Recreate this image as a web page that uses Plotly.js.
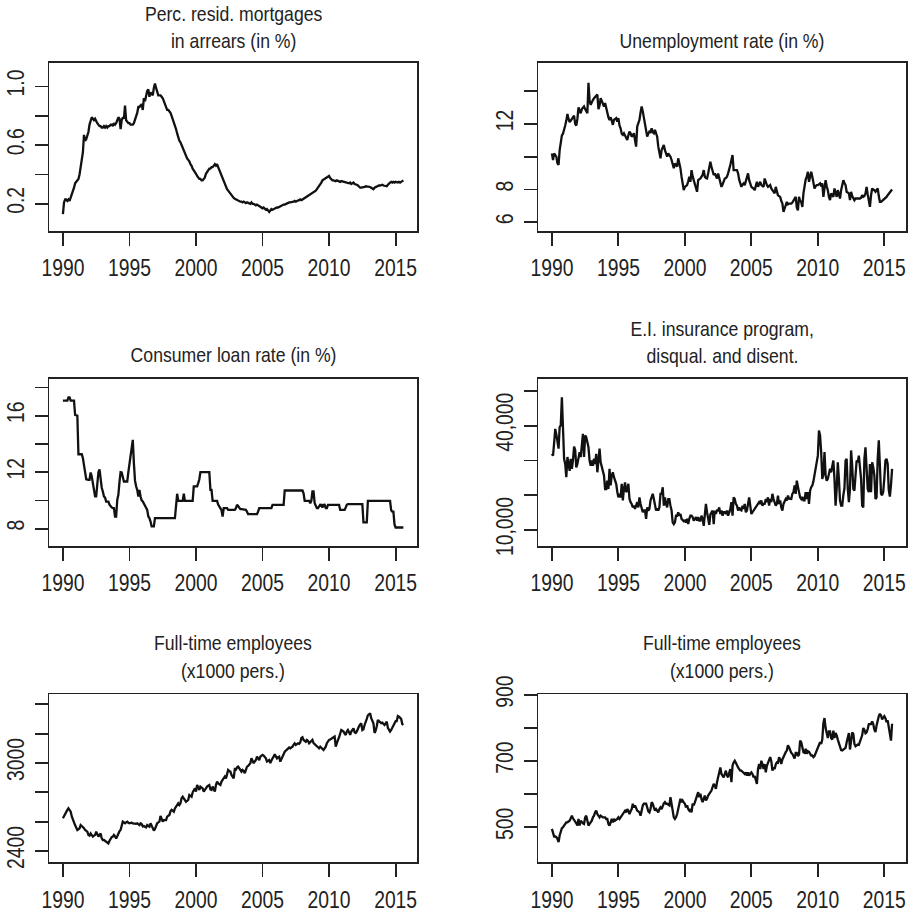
<!DOCTYPE html>
<html><head><meta charset="utf-8">
<script src="https://cdn.plot.ly/plotly-3.0.1.min.js"></script>
<style>html,body{margin:0;padding:0;background:#fff;}#chart{width:911px;height:912px;}</style>
</head><body><div id="chart"></div>
<script>
// ---------- DATA (monthly, Jan 1990 - Aug 2015) ----------
const startYear = 1990;
const xTickVals = [1990, 1995, 2000, 2005, 2010, 2015];
const xTickText = ['1990', '1995', '2000', '2005', '2010', '2015'];

const mortgArrears = [
0.13,0.21,0.23,0.23,0.22,0.23,0.22,0.24,0.26,0.28,0.31,0.34,
0.35,0.36,0.37,0.40,0.45,0.50,0.55,0.67,0.63,0.64,0.66,0.69,
0.74,0.77,0.79,0.78,0.77,0.78,0.76,0.75,0.74,0.73,0.73,0.72,
0.72,0.73,0.72,0.73,0.72,0.73,0.73,0.74,0.74,0.73,0.75,0.74,
0.75,0.77,0.79,0.78,0.71,0.77,0.79,0.78,0.87,0.77,0.76,0.75,
0.75,0.74,0.74,0.74,0.75,0.77,0.80,0.82,0.86,0.86,0.87,0.88,
0.84,0.92,0.90,0.95,0.97,0.98,0.93,0.96,0.95,0.94,0.99,1.02,
0.99,0.97,0.94,0.94,0.94,0.93,0.92,0.90,0.88,0.86,0.84,0.84,
0.83,0.82,0.80,0.78,0.76,0.73,0.71,0.68,0.65,0.63,0.62,0.60,
0.59,0.57,0.55,0.53,0.51,0.50,0.49,0.47,0.46,0.44,0.43,0.42,
0.405,0.39,0.38,0.37,0.37,0.36,0.36,0.37,0.38,0.405,0.42,0.43,
0.44,0.44,0.45,0.45,0.46,0.47,0.46,0.47,0.45,0.43,0.42,0.40,
0.38,0.36,0.34,0.32,0.30,0.29,0.28,0.27,0.26,0.245,0.24,0.235,
0.23,0.225,0.22,0.22,0.215,0.215,0.21,0.215,0.21,0.205,0.21,0.205,
0.205,0.20,0.21,0.20,0.20,0.195,0.19,0.195,0.19,0.185,0.18,0.18,
0.17,0.175,0.165,0.16,0.165,0.155,0.145,0.155,0.165,0.16,0.165,0.17,
0.17,0.175,0.175,0.18,0.185,0.185,0.19,0.195,0.195,0.20,0.20,0.205,
0.21,0.21,0.21,0.215,0.215,0.22,0.215,0.22,0.22,0.225,0.23,0.225,
0.23,0.235,0.24,0.245,0.25,0.255,0.255,0.26,0.265,0.27,0.275,0.28,
0.29,0.30,0.31,0.325,0.335,0.345,0.36,0.365,0.37,0.375,0.38,0.39,
0.39,0.375,0.365,0.36,0.36,0.355,0.355,0.36,0.355,0.355,0.35,0.355,
0.353,0.35,0.35,0.345,0.345,0.34,0.34,0.345,0.335,0.34,0.345,0.335,
0.335,0.33,0.325,0.315,0.31,0.31,0.31,0.315,0.315,0.32,0.32,0.32,
0.32,0.315,0.31,0.305,0.30,0.31,0.315,0.315,0.32,0.325,0.325,0.33,
0.33,0.325,0.325,0.32,0.32,0.33,0.34,0.345,0.35,0.345,0.35,0.345,
0.35,0.345,0.345,0.35,0.345,0.35,0.355,0.36];

const unemploymentRate = [
10.2,9.8,10.2,10.1,10.0,9.6,9.5,10.4,11.0,11.3,11.4,11.6,
11.9,12.2,12.6,12.3,12.1,12.2,12.3,12.4,12.5,12.0,11.9,12.3,
13.0,12.8,12.65,12.9,13.0,13.06,12.9,12.8,12.65,14.5,13.4,13.16,
13.37,13.45,13.57,13.65,13.72,13.78,12.9,13.1,13.57,13.4,13.2,13.06,
13.27,12.9,12.55,12.4,12.24,12.4,12.2,11.94,12.24,12.3,12.35,12.14,
12.35,11.9,11.73,11.4,11.33,11.43,11.3,11.22,11.02,11.3,11.53,11.43,
11.22,11.3,11.43,11.0,10.61,11.84,12.0,12.24,12.7,13.06,12.76,12.4,
11.84,11.5,11.22,11.4,11.53,11.5,11.73,11.5,11.43,11.63,11.4,11.22,
10.61,10.2,9.9,10.41,10.6,10.71,10.4,10.2,10.0,10.2,10.1,10.0,
9.8,9.5,9.29,9.59,9.5,9.39,9.9,9.6,9.29,8.78,8.3,7.96,
8.16,8.2,8.27,8.5,8.78,8.47,9.18,8.8,8.57,8.37,8.1,7.86,
8.57,8.6,8.67,8.78,8.9,9.18,8.78,8.7,8.67,8.98,9.3,9.69,
9.39,9.1,8.88,8.98,8.8,8.67,8.98,8.7,8.47,8.16,8.3,8.47,
8.67,8.7,8.78,8.98,9.18,9.49,9.8,10.1,9.18,9.2,9.18,9.18,
8.98,8.6,8.37,8.16,8.3,8.37,8.27,8.47,8.7,8.98,8.57,8.3,
8.16,8.1,8.06,7.96,8.2,8.47,8.16,8.3,8.47,8.27,8.2,8.16,
8.67,8.4,8.27,8.16,8.2,8.27,8.06,7.95,7.86,7.76,8.16,7.9,
7.65,7.6,7.55,7.3,7.14,6.63,6.9,7.04,7.24,7.1,7.14,7.14,
7.14,7.2,7.35,7.45,7.55,6.9,6.73,7.55,7.3,7.24,6.94,7.76,
8.37,8.6,8.78,9.08,8.47,8.8,9.08,8.78,8.4,8.06,8.2,8.27,
8.27,8.3,8.37,8.2,8.37,7.55,8.0,8.57,8.2,7.96,7.55,7.35,
7.76,7.65,7.55,8.06,7.8,7.55,7.96,7.7,7.45,7.96,8.3,8.57,
8.4,8.27,7.86,7.8,7.76,7.35,7.86,7.6,7.45,7.35,7.45,7.45,
7.45,7.45,7.45,7.5,7.65,7.55,7.6,7.76,8.16,7.7,7.35,6.94,
7.65,8.06,8.0,7.96,7.86,7.96,8.06,7.6,7.24,7.24,7.3,7.35,
7.45,7.45,7.55,7.65,7.75,7.86,7.96,8.0];

const consumerLoanRate = [
17.07,17.07,17.07,17.07,17.07,17.3,17.3,17.07,17.07,17.07,17.07,16.05,
16.0,16.0,13.27,13.27,13.27,13.27,13.0,12.6,12.0,11.5,11.46,11.46,
11.46,11.98,11.7,11.2,10.63,10.28,10.28,11.0,12.0,12.2,11.46,10.9,
10.63,10.28,10.2,9.92,9.92,9.92,9.7,9.57,9.5,9.45,9.45,8.86,
8.86,10.04,10.4,11.3,12.0,11.98,11.6,11.34,11.34,11.34,11.34,12.0,
12.6,12.9,13.8,14.29,12.64,11.4,11.0,10.75,10.28,10.75,10.28,10.0,
9.92,9.75,9.57,9.45,9.33,8.86,8.75,8.5,8.16,8.16,8.16,8.75,
8.75,8.75,8.75,8.75,8.75,8.75,8.75,8.75,8.75,8.75,8.75,8.75,
8.75,8.75,8.75,8.75,8.75,8.75,9.6,10.47,9.97,9.97,9.97,9.97,
9.97,10.47,9.97,9.97,9.97,9.97,9.97,9.97,9.97,9.97,10.99,10.99,
10.99,10.99,11.22,11.5,12.0,12.0,12.0,12.0,12.0,12.0,12.0,12.0,
12.0,10.75,10.75,9.97,9.97,9.97,9.97,9.97,9.7,9.57,9.45,9.3,
8.86,9.45,9.45,9.45,9.45,9.33,9.33,9.33,9.33,9.33,9.33,9.33,
9.45,9.69,9.6,9.45,9.38,9.38,9.38,9.33,9.33,9.33,9.2,9.03,
9.03,9.03,9.03,9.03,9.03,9.03,9.03,9.03,9.2,9.45,9.45,9.45,
9.45,9.45,9.45,9.45,9.45,9.45,9.45,9.45,9.45,9.69,9.69,9.69,
9.69,9.69,9.69,9.69,9.69,9.69,9.69,9.69,10.7,10.7,10.7,10.7,
10.7,10.7,10.7,10.7,10.7,10.7,10.7,10.7,10.7,10.7,10.7,10.7,
10.7,10.5,9.97,9.97,9.97,9.97,9.97,9.8,9.97,10.63,10.63,9.8,
9.6,9.45,9.45,9.6,9.7,9.69,9.5,9.69,9.7,9.45,9.45,9.69,
9.69,9.69,9.69,9.69,9.69,9.69,9.69,9.69,9.69,9.69,9.33,9.33,
9.33,9.33,9.33,9.5,9.69,9.74,9.74,9.74,9.74,9.74,9.74,9.74,
9.74,9.74,9.74,9.74,9.74,9.74,9.74,8.44,8.44,8.44,8.44,9.97,
9.97,9.97,9.97,9.97,9.97,9.97,9.97,9.97,9.97,9.97,9.97,9.97,
9.97,9.97,9.97,9.97,9.97,9.97,9.97,9.97,9.3,9.2,9.2,8.3,
8.08,8.08,8.08,8.08,8.08,8.08,8.08,8.08];

const eiDisqualDisent = [
31900,31400,35000,39100,37500,35000,33400,39600,40100,48200,37000,30500,
29000,25200,31000,29000,27000,30500,27600,30000,34000,33000,28000,29000,
30500,32400,31000,35300,37700,31000,37200,36700,35000,33800,30000,28500,
30000,28500,30500,29000,31900,26600,30000,33400,29500,28000,27000,25700,
21800,21800,24200,21800,27600,22800,25700,26600,25200,24000,23300,21000,
19400,20400,19400,23300,18500,21800,23700,20900,21500,23300,19000,18000,
17500,16500,17000,16100,17000,18000,16500,19400,17500,16500,15100,15600,
15600,13200,16500,15600,16100,18500,19900,20400,18900,17500,15600,16200,
15600,16500,20400,20400,22300,17000,19400,17500,16500,18900,18900,17000,
15600,12200,11700,12200,14100,14100,15100,14100,14600,13200,12700,12500,
12700,12200,13200,11700,13200,14100,14100,13700,12700,13200,13700,12700,
13700,12700,12700,14100,13200,11200,14100,17500,15100,12700,11500,14500,
15100,15600,11700,15600,14600,15600,15600,16500,14600,15600,14100,15100,
15100,14600,15600,14100,15000,16100,18000,14100,19400,18900,17500,17000,
15600,16500,15800,15600,17000,16100,17500,15100,15600,17500,19400,17000,
14600,15100,15600,16100,16500,17000,17500,18000,17500,18500,17000,17500,
17500,18900,18000,19400,17000,18900,18000,20400,18900,18000,17000,17500,
19900,17500,18500,16500,15600,17500,18000,18900,18500,19900,19000,18900,
18900,20400,20900,22800,20400,24200,21800,20900,19400,18900,19500,18500,
18500,20900,18900,20900,17500,21300,22300,22800,24000,25700,28100,30000,
31400,38600,37200,32400,24700,26100,32400,25700,24200,24700,26600,27600,
26600,28000,30000,24700,17000,21800,29500,24700,18500,17000,17000,20000,
22000,30000,30500,21800,18000,21800,32900,28500,21800,21300,26000,30000,
29500,31400,28100,24700,17000,16500,30500,33800,27600,21800,20900,29000,
20900,29500,28100,25700,18900,19400,30500,35800,28500,20400,20000,21000,
25000,30000,30500,29000,21500,19600,23000,27600];

const fullTimeEmployeesA = [
2623,2640,2655,2665,2680,2691,2680,2668,2635,2610,2589,2575,
2560,2543,2548,2555,2577,2570,2566,2555,2543,2535,2532,2509,
2505,2520,2510,2498,2505,2509,2532,2515,2498,2510,2520,2486,
2475,2475,2470,2464,2455,2452,2470,2486,2495,2498,2509,2500,
2486,2500,2520,2535,2543,2570,2600,2595,2589,2595,2600,2593,
2589,2591,2593,2589,2588,2584,2586,2589,2580,2577,2589,2584,
2568,2570,2565,2561,2577,2572,2566,2589,2570,2555,2539,2550,
2575,2589,2595,2600,2639,2620,2600,2611,2611,2611,2634,2640,
2645,2670,2680,2675,2668,2690,2702,2710,2725,2714,2725,2760,
2770,2759,2750,2736,2742,2748,2782,2775,2770,2800,2816,2827,
2805,2850,2835,2816,2839,2830,2827,2805,2820,2827,2839,2845,
2850,2820,2816,2839,2820,2805,2850,2873,2861,2855,2850,2873,
2884,2895,2907,2895,2920,2952,2945,2941,2918,2905,2895,2958,
2955,2970,2975,2964,2955,2941,2952,2945,2930,2964,2975,2980,
2990,2998,3032,3015,2998,3010,3020,3043,3030,3020,3043,3050,
3055,3050,3043,3032,3010,3015,3020,3000,3020,3032,3043,3060,
3045,3032,3040,3043,3009,3030,3043,3060,3077,3085,3089,3100,
3105,3100,3105,3111,3125,3134,3123,3128,3134,3130,3139,3170,
3175,3157,3150,3145,3157,3150,3134,3140,3145,3157,3135,3128,
3125,3111,3105,3100,3111,3105,3100,3089,3100,3111,3135,3150,
3157,3160,3165,3168,3175,3180,3111,3140,3157,3175,3205,3225,
3220,3214,3200,3191,3214,3225,3210,3191,3214,3225,3236,3210,
3205,3214,3236,3250,3262,3270,3225,3230,3259,3275,3300,3325,
3335,3339,3305,3290,3270,3205,3220,3250,3293,3285,3280,3272,
3275,3270,3259,3270,3282,3240,3220,3214,3225,3240,3259,3270,
3285,3285,3320,3315,3305,3300,3265,3259];

const fullTimeEmployeesB = [
495,485,472,472,470,465,455,475,490,497,500,505,
510,515,515,518,520,527,535,527,520,517,512,505,
525,505,520,515,512,510,530,535,515,505,510,515,
520,530,535,545,550,540,535,530,535,532,530,530,
530,525,525,510,505,515,525,515,525,520,522,525,
530,525,530,535,540,545,550,545,555,550,540,548,
555,571,560,566,555,550,548,545,535,555,566,571,
571,571,560,548,545,555,576,571,560,550,555,550,
545,555,560,555,566,572,576,571,571,568,566,591,
566,540,530,525,530,540,555,576,586,576,581,575,
571,560,566,555,550,555,545,571,566,575,585,596,
606,591,601,585,576,586,596,581,586,596,600,606,
611,621,631,626,616,636,651,665,681,661,655,651,
661,671,656,651,665,676,636,686,696,701,695,685,
681,676,671,671,668,664,661,666,656,666,656,662,
666,661,651,655,640,631,676,691,676,701,690,676,
691,666,686,696,705,712,700,671,681,676,690,696,
695,712,705,691,705,714,720,727,732,748,742,730,
725,722,717,708,725,725,715,720,762,757,742,727,
725,737,722,730,728,720,717,717,712,716,725,735,
745,752,757,752,765,815,830,800,782,770,790,790,
770,765,792,770,785,778,765,755,747,733,732,735,
737,740,757,770,785,735,760,787,782,752,745,748,
750,749,757,767,778,800,795,784,787,797,812,812,
812,820,812,795,788,808,825,836,843,838,826,830,
836,830,818,823,805,790,762,813];

// y-axis ticks (R draws every tick, labels only where they fit)
const arrearsTickVals = [0.2, 0.4, 0.6, 0.8, 1.0];
const arrearsTickText = ['0.2', '', '0.6', '', '1.0'];
const unempTickVals = [6, 8, 10, 12, 14];
const unempTickText = ['6', '8', '', '12', ''];
const loanTickVals = [8, 10, 12, 14, 16, 18];
const loanTickText = ['8', '', '12', '', '16', ''];
const eiTickVals = [10000, 20000, 30000, 40000, 50000];
const eiTickText = ['10,000', '', '', '40,000', ''];
const ftaTickVals = [2400, 2600, 2800, 3000, 3200, 3400];
const ftaTickText = ['2400', '', '', '3000', '', ''];
const ftbTickVals = [500, 600, 700, 800, 900];
const ftbTickText = ['500', '', '700', '', '900'];

const panelTitles = [
  ['Perc. resid. mortgages', 'in arrears (in %)'],
  ['Unemployment rate (in %)'],
  ['Consumer loan rate (in %)'],
  ['E.I. insurance program,', 'disqual. and disent.'],
  ['Full-time employees', '(x1000 pers.)'],
  ['Full-time employees', '(x1000 pers.)']
];

// ---------- LAYOUT ----------
const W = 911, H = 912;
const FONT = "'Liberation Sans Narrow', 'Arial Narrow', 'Liberation Sans', Arial, sans-serif";
const NARROW = 0.84; // horizontal condensing of text (Helvetica Narrow look)
const INK = '#222222';
const colX = [[49.3, 417], [538.3, 905.7]];
const rowY = [[63, 231], [379, 546], [694.3, 862.3]];

const panels = [
  {y: mortgArrears, range: [0.015, 1.16], tv: arrearsTickVals, tt: arrearsTickText, col: 0, row: 0, titleY: [13.5, 41]},
  {y: unemploymentRate, range: [5.47, 15.71], tv: unempTickVals, tt: unempTickText, col: 1, row: 0, titleY: [40.5]},
  {y: consumerLoanRate, range: [6.77, 18.6], tv: loanTickVals, tt: loanTickText, col: 0, row: 1, titleY: [354.5]},
  {y: eiDisqualDisent, range: [5385, 53460], tv: eiTickVals, tt: eiTickText, col: 1, row: 1, titleY: [328.5, 355.5]},
  {y: fullTimeEmployeesA, range: [2323, 3468], tv: ftaTickVals, tt: ftaTickText, col: 0, row: 2, titleY: [642.5, 670]},
  {y: fullTimeEmployeesB, range: [394, 902], tv: ftbTickVals, tt: ftbTickText, col: 1, row: 2, titleY: [642.5, 670]}
];

const traces = [];
const layout = {
  width: W, height: H, margin: {l: 0, r: 0, t: 0, b: 0},
  paper_bgcolor: '#ffffff', plot_bgcolor: '#ffffff',
  showlegend: false, annotations: []
};

panels.forEach((p, i) => {
  const k = i + 1;
  const sfx = k === 1 ? '' : String(k);
  const xs = p.y.map((v, j) => startYear + j / 12);
  traces.push({
    type: 'scatter', mode: 'lines', x: xs, y: p.y,
    xaxis: 'x' + sfx, yaxis: 'y' + sfx,
    line: {color: '#111111', width: 2.3}, hoverinfo: 'skip'
  });
  const n = xs.length;
  const pad = 0.04 * (xs[n - 1] - xs[0]);
  const common = {
    showgrid: false, zeroline: false, showline: true, mirror: true,
    linecolor: INK, linewidth: 1.8, ticks: 'outside', ticklen: 13,
    tickwidth: 1.8, tickcolor: INK, fixedrange: true,
    tickfont: {family: FONT, size: 23, color: INK}, tickmode: 'array'
  };
  layout['xaxis' + sfx] = Object.assign({}, common, {
    domain: [colX[p.col][0] / W, colX[p.col][1] / W],
    range: [xs[0] - pad, xs[n - 1] + pad],
    anchor: 'y' + sfx, tickvals: xTickVals, ticktext: xTickText,
    ticklabelstandoff: 3
  });
  layout['yaxis' + sfx] = Object.assign({}, common, {
    domain: [1 - rowY[p.row][1] / H, 1 - rowY[p.row][0] / H],
    range: p.range, anchor: 'x' + sfx, tickvals: p.tv, ticktext: p.tt,
    tickangle: -90, ticklabelstandoff: 1
  });
  panelTitles[i].forEach((line, li) => {
    layout.annotations.push({
      text: line, showarrow: false,
      xref: 'x' + sfx + ' domain', x: 0.5, xanchor: 'center',
      yref: 'paper', y: 1 - p.titleY[li] / H, yanchor: 'middle',
      font: {family: FONT, size: 21, color: INK}
    });
  });
});

function condenseText() {
  document.querySelectorAll('#chart svg text').forEach(t => {
    if (t.querySelector('tspan')) return;
    const w = t.getComputedTextLength();
    if (w > 0) {
      t.setAttribute('textLength', (w * NARROW).toFixed(2));
      t.setAttribute('lengthAdjust', 'spacingAndGlyphs');
    }
  });
}

Plotly.newPlot('chart', traces, layout, {staticPlot: true, displayModeBar: false}).then(condenseText);
</script>
</body></html>
